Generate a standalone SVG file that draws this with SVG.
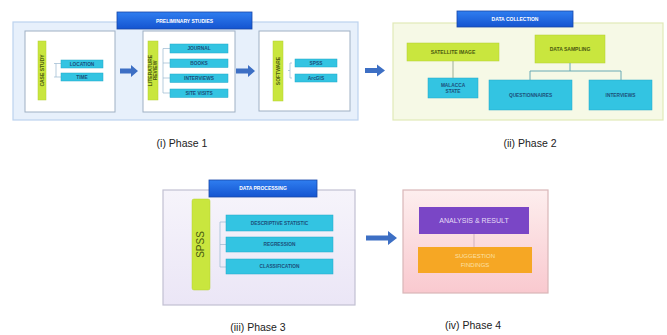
<svg xmlns="http://www.w3.org/2000/svg" width="667" height="335" viewBox="0 0 667 335">
<style>
text{font-family:"Liberation Sans",Arial,sans-serif}
.cap{font-size:10.5px;fill:#222;text-anchor:middle}
.title{fill:url(#gBlue);stroke:#1846a8;stroke-width:0.8}
.tt{font-size:5px;fill:#fff;font-weight:bold;text-anchor:middle}
.inner{fill:#fff;stroke:#9fb0c4;stroke-width:1}
.cy{fill:#33c4e2;stroke:#22a8c8;stroke-width:0.5}
.ct{font-size:4.8px;fill:#1b4f7a;font-weight:bold;text-anchor:middle}
.lime{fill:#c9e63e;stroke:#b4d030;stroke-width:0.5}
.lt{font-size:5px;fill:#4a5a10;font-weight:bold;text-anchor:middle}
.br{fill:none;stroke:#9ab8d0;stroke-width:0.7}
.arr{fill:#3d6fc4}
</style>
<defs>
<linearGradient id="gBlue" x1="0" y1="0" x2="0" y2="1"><stop offset="0" stop-color="#2f7ef0"/><stop offset="1" stop-color="#1454d0"/></linearGradient>
<linearGradient id="gP3" x1="0" y1="0" x2="0" y2="1"><stop offset="0" stop-color="#f6f4fb"/><stop offset="1" stop-color="#ebe6f6"/></linearGradient>
<linearGradient id="gP4" x1="0" y1="0" x2="0" y2="1"><stop offset="0" stop-color="#fdeeee"/><stop offset="1" stop-color="#f9c9cf"/></linearGradient>
</defs>
<rect width="667" height="335" fill="#fff"/>

<g id="phase1">
<rect x="13" y="22" width="345" height="98" fill="#e7f0fb" stroke="#bcd2ee" stroke-width="1.2"/>
<rect class="title" x="117" y="12" width="135" height="17"/>
<text class="tt" x="184.5" y="22.5">PRELIMINARY STUDIES</text>
</g>

<g id="casestudy">
<rect class="inner" x="25" y="31" width="90" height="81"/>
<rect class="lime" x="38" y="41" width="8" height="59"/>
<text class="lt" transform="translate(43.5,70.5) rotate(-90)">CASE STUDY</text>
<path class="br" d="M54 63.5 H56 V77 H54 M56 63.5 H61 M56 77 H61"/>
<rect class="cy" x="61" y="60" width="42" height="8"/>
<text class="ct" x="82" y="65.8">LOCATION</text>
<rect class="cy" x="61" y="73" width="42" height="8"/>
<text class="ct" x="82" y="78.8">TIME</text>
</g>

<g id="litreview">
<rect class="inner" x="143" y="31" width="92" height="81"/>
<rect class="lime" x="148" y="41" width="10" height="59"/>
<text class="lt" transform="translate(152,70.5) rotate(-90)">LITERATURE</text>
<text class="lt" transform="translate(157,70.5) rotate(-90)">REVIEW</text>
<path class="br" d="M163 48.5 V93 M163 48.5 H170 M163 63 H170 M163 78 H170 M163 93 H170"/>
<rect class="cy" x="170" y="44" width="58" height="9"/>
<text class="ct" x="199" y="50.3">JOURNAL</text>
<rect class="cy" x="170" y="59" width="58" height="8.5"/>
<text class="ct" x="199" y="65">BOOKS</text>
<rect class="cy" x="170" y="74" width="58" height="8.5"/>
<text class="ct" x="199" y="80">INTERVIEWS</text>
<rect class="cy" x="170" y="89" width="58" height="8.5"/>
<text class="ct" x="199" y="95">SITE VISITS</text>
</g>

<g id="software">
<rect class="inner" x="259" y="31" width="91" height="80"/>
<rect class="lime" x="273" y="41" width="10" height="60"/>
<text class="lt" transform="translate(280,71) rotate(-90)">SOFTWARE</text>
<path class="br" d="M292 63 H290 V78 H292 M290 70.5 H288"/>
<rect class="cy" x="295" y="59" width="42" height="8"/>
<text class="ct" x="316" y="64.8">SPSS</text>
<rect class="cy" x="295" y="74" width="42" height="8"/>
<text class="ct" x="316" y="79.8">ArcGIS</text>
</g>

<g id="phase2">
<rect x="393" y="23" width="270" height="97" fill="#f6f9e6" stroke="#e1e9b8" stroke-width="1.2"/>
<rect class="title" x="457" y="11" width="116" height="16"/>
<text class="tt" x="515" y="20.8">DATA COLLECTION</text>
</g>
<g id="satellite">
<rect class="lime" x="407" y="43" width="92" height="18"/>
<text class="lt" x="453" y="53.8">SATELLITE IMAGE</text>
</g>
<g id="datasampling">
<rect class="lime" x="535" y="35" width="70" height="28"/>
<text class="lt" x="570" y="50.8">DATA SAMPLING</text>
</g>
<g id="malacca">
<rect class="cy" x="428" y="78" width="50" height="20"/>
<text class="ct" x="453" y="86.5">MALACCA</text>
<text class="ct" x="453" y="93">STATE</text>
</g>
<g id="questionnaires">
<rect class="cy" x="489" y="80" width="83" height="30"/>
<text class="ct" x="530.5" y="96.7">QUESTIONNAIRES</text>
</g>
<g id="interviews2">
<rect class="cy" x="589" y="80" width="63" height="30"/>
<text class="ct" x="620.5" y="96.7">INTERVIEWS</text>
</g>

<g id="phase3">
<rect x="163" y="190" width="192" height="115" fill="url(#gP3)" stroke="#c2c0d2" stroke-width="1.2"/>
<rect class="title" x="209" y="180" width="108" height="17"/>
<text class="tt" x="263" y="190.3">DATA PROCESSING</text>
</g>
<g id="spss">
<rect class="lime" x="192" y="199" width="18" height="91" rx="2"/>
<text transform="translate(204,244.5) rotate(-90)" font-size="10" fill="#4a5a10" text-anchor="middle" font-family="Liberation Sans,Arial,sans-serif">SPSS</text>
<path class="br" d="M220 222 V267 M220 222 H226 M220 244.5 H226 M220 267 H226" stroke="#d8b8c8"/>
<rect class="cy" x="226" y="215" width="107" height="16"/>
<text class="ct" x="279.5" y="224.8">DESCRIPTIVE STATISTIC</text>
<rect class="cy" x="226" y="237" width="107" height="15"/>
<text class="ct" x="279.5" y="246.3">REGRESSION</text>
<rect class="cy" x="226" y="259" width="107" height="15"/>
<text class="ct" x="279.5" y="268.3">CLASSIFICATION</text>
</g>

<g id="phase4">
<rect x="403" y="190" width="145" height="103" fill="url(#gP4)" stroke="#d9b6b8" stroke-width="1.2"/>
</g>
<g id="analysis">
<rect x="419" y="207" width="110" height="27" fill="#7a46c6"/>
<text x="474" y="223" font-size="7" fill="#e6dcf7" text-anchor="middle">ANALYSIS &amp; RESULT</text>
</g>
<g id="suggestion">
<rect x="418" y="247" width="114" height="26" fill="#f6a724"/>
<text x="475" y="258" font-size="6" fill="#fbe0a8" text-anchor="middle">SUGGESTION</text>
<text x="475" y="267" font-size="6" fill="#fbe0a8" text-anchor="middle">FINDINGS</text>
</g>

<g id="connectors">
<path class="arr" d="M120 68.5 H131 V65 L138 71 L131 77 V73.5 H120 Z"/>
<path class="arr" d="M236 68.5 H248 V65 L255 71 L248 77 V73.5 H236 Z"/>
<path class="arr" d="M365 68 H377 V64.5 L385 70.5 L377 76.5 V73 H365 Z"/>
<path class="arr" d="M366 235.5 H388 V231 L397 238 L388 245 V240.5 H366 Z"/>
<path d="M453 61 V78" fill="none" stroke="#8aa080" stroke-width="0.8"/>
<path d="M570 63 V71 M530 80 V71 H621 V80" fill="none" stroke="#5aa0b0" stroke-width="0.9"/>
<path d="M474 234 V247" fill="none" stroke="#c0a0b0" stroke-width="0.7"/>
</g>

<g id="captions">
<text class="cap" x="182" y="147">(i) Phase 1</text>
<text class="cap" x="530" y="147">(ii) Phase 2</text>
<text class="cap" x="258" y="331">(iii) Phase 3</text>
<text class="cap" x="473" y="329">(iv) Phase 4</text>
</g>
</svg>
